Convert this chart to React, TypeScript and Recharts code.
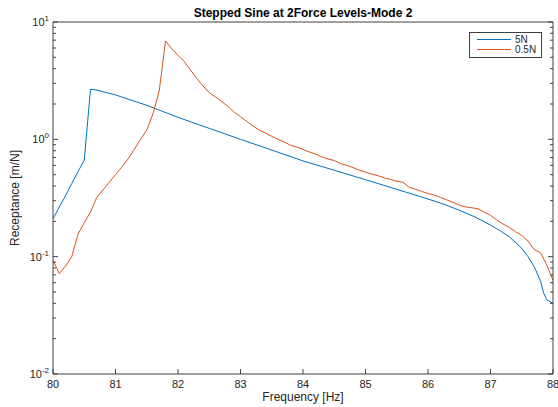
import { LineChart, Line, XAxis, YAxis } from 'recharts'

const freq5N = [80.0, 80.1, 80.2, 80.3, 80.4, 80.5, 80.6, 80.7, 81.0, 81.5, 82.0, 82.5, 83.0, 83.5, 84.0, 84.5, 85.0, 85.5, 86.0, 86.25, 86.5, 86.75, 87.0, 87.15, 87.3, 87.5, 87.6, 87.7, 87.8, 87.85, 87.9, 88.0]
const recept5N = [0.21, 0.265, 0.33, 0.42, 0.53, 0.665, 2.67, 2.63, 2.39, 1.95, 1.54, 1.24, 1.0, 0.81, 0.655, 0.545, 0.453, 0.375, 0.31, 0.28, 0.249, 0.218, 0.186, 0.167, 0.148, 0.118, 0.1, 0.082, 0.062, 0.049, 0.043, 0.04]

const freq05N = [80.0, 80.1, 80.2, 80.3, 80.4, 80.5, 80.6, 80.7, 80.8, 80.9, 81.0, 81.1, 81.2, 81.3, 81.4, 81.5, 81.6, 81.7, 81.8, 81.9, 82.0, 82.1, 82.2, 82.3, 82.4, 82.5, 82.6, 82.7, 82.8, 82.9, 83.0, 83.1, 83.2, 83.3, 83.4, 83.5, 83.6, 83.7, 83.8, 83.9, 84.0, 84.1, 84.2, 84.3, 84.4, 84.5, 84.6, 84.7, 84.8, 84.9, 85.0, 85.1, 85.2, 85.3, 85.4, 85.5, 85.6, 85.7, 85.8, 85.9, 86.0, 86.1, 86.2, 86.3, 86.4, 86.5, 86.6, 86.7, 86.8, 86.9, 87.0, 87.1, 87.2, 87.3, 87.4, 87.5, 87.6, 87.7, 87.8, 87.9, 88.0]
const recept05N = [0.093, 0.072, 0.083, 0.1, 0.155, 0.195, 0.24, 0.32, 0.37, 0.43, 0.5, 0.58, 0.68, 0.82, 1.0, 1.2, 1.65, 2.6, 6.9, 5.9, 5.2, 4.6, 3.9, 3.3, 2.85, 2.5, 2.3, 2.1, 1.9, 1.7, 1.56, 1.42, 1.3, 1.2, 1.13, 1.06, 1.0, 0.95, 0.89, 0.86, 0.82, 0.78, 0.75, 0.71, 0.68, 0.66, 0.62, 0.6, 0.575, 0.545, 0.525, 0.505, 0.49, 0.47, 0.455, 0.44, 0.43, 0.39, 0.375, 0.36, 0.345, 0.335, 0.32, 0.305, 0.29, 0.275, 0.266, 0.261, 0.256, 0.24, 0.225, 0.205, 0.19, 0.178, 0.163, 0.152, 0.136, 0.115, 0.108, 0.085, 0.063]

const xTicks = [80, 81, 82, 83, 84, 85, 86, 87, 88]
const yMajor = [0.01, 0.1, 1, 10]
const yMinor = [0.02, 0.03, 0.04, 0.05, 0.06, 0.07, 0.08, 0.09, 0.2, 0.3, 0.4, 0.5, 0.6, 0.7, 0.8, 0.9, 2, 3, 4, 5, 6, 7, 8, 9]

const series5N = freq5N.map((f, i) => ({ f, v: recept5N[i] }))
const series05N = freq05N.map((f, i) => ({ f, v: recept05N[i] }))

const AXIS = '#404040'
const FONT = '"Liberation Sans", Arial, sans-serif'

const isMajor = (v: number) => yMajor.some(m => Math.abs(m - v) < 1e-9)

function BottomTick({ x, y, payload }: any) {
  return (
    <g>
      <line x1={x} y1={y} x2={x} y2={y - 5} stroke={AXIS} />
      <text x={x} y={y + 14} textAnchor="middle" fontSize={11} fill="#262626" fontFamily={FONT}>
        {payload.value}
      </text>
    </g>
  )
}

function TopTick({ x, y }: any) {
  return <line x1={x} y1={y} x2={x} y2={y + 5} stroke={AXIS} />
}

function LeftTick({ x, y, payload }: any) {
  const major = isMajor(payload.value)
  const exp = Math.round(Math.log10(payload.value))
  return (
    <g>
      <line x1={x} y1={y} x2={x + (major ? 5 : 3)} y2={y} stroke={AXIS} />
      {major && (
        <text x={x - 4} y={y + 4} textAnchor="end" fontSize={11} fill="#262626" fontFamily={FONT}>
          10<tspan dy={-5} fontSize={8}>{exp}</tspan>
        </text>
      )}
    </g>
  )
}

function RightTick({ x, y, payload }: any) {
  const major = isMajor(payload.value)
  return <line x1={x} y1={y} x2={x - (major ? 5 : 3)} y2={y} stroke={AXIS} />
}

export default function App() {
  return (
    <div style={{ position: 'absolute', left: 0, top: 0, width: 558, height: 407, background: '#fff' }}>
      <LineChart width={558} height={407} margin={{ top: 12, right: 0, bottom: 3, left: 3 }}>
        <XAxis
          dataKey="f"
          type="number"
          domain={[80, 88]}
          ticks={xTicks}
          allowDataOverflow
          height={30}
          tickSize={0}
          tickMargin={0}
          tickLine={false}
          stroke={AXIS}
          tick={<BottomTick />}
          interval={0}
        />
        <XAxis
          xAxisId="top"
          orientation="top"
          type="number"
          domain={[80, 88]}
          ticks={xTicks}
          allowDataOverflow
          height={10}
          tickSize={0}
          tickMargin={0}
          tickLine={false}
          stroke={AXIS}
          tick={<TopTick />}
          interval={0}
        />
        <YAxis
          dataKey="v"
          scale="log"
          type="number"
          domain={[0.01, 10]}
          allowDataOverflow
          ticks={[...yMajor, ...yMinor]}
          width={50}
          tickSize={0}
          tickMargin={0}
          tickLine={false}
          stroke={AXIS}
          tick={<LeftTick />}
          interval={0}
        />
        <YAxis
          yAxisId="right"
          orientation="right"
          scale="log"
          type="number"
          domain={[0.01, 10]}
          allowDataOverflow
          ticks={[...yMajor, ...yMinor]}
          width={5}
          tickSize={0}
          tickMargin={0}
          tickLine={false}
          stroke={AXIS}
          tick={<RightTick />}
          interval={0}
        />
        <Line data={series5N} dataKey="v" name="5N" stroke="#0072BD" strokeWidth={1} dot={false} isAnimationActive={false} />
        <Line data={series05N} dataKey="v" name="0.5N" stroke="#D95319" strokeWidth={1} dot={false} isAnimationActive={false} />
      </LineChart>
      <svg width={558} height={407} style={{ position: 'absolute', left: 0, top: 0, pointerEvents: 'none' }}>
        <text x={303} y={17} textAnchor="middle" fontSize={12} fontWeight="bold" fill="#000" fontFamily={FONT}>
          Stepped Sine at 2Force Levels-Mode 2
        </text>
        <text x={303} y={401} textAnchor="middle" fontSize={12} fill="#262626" fontFamily={FONT}>
          Frequency [Hz]
        </text>
        <text x={19} y={198} textAnchor="middle" fontSize={12} fill="#262626" fontFamily={FONT} transform="rotate(-90 19 198)">
          Receptance [m/N]
        </text>
        <g transform="translate(469,32)">
          <rect x={0.5} y={0.5} width={72} height={25} fill="#fff" stroke={AXIS} />
          <line x1={8} y1={7.5} x2={42} y2={7.5} stroke="#0072BD" />
          <line x1={8} y1={17.5} x2={42} y2={17.5} stroke="#D95319" />
          <text x={46} y={11} fontSize={10} fill="#262626" fontFamily={FONT}>5N</text>
          <text x={46} y={21} fontSize={10} fill="#262626" fontFamily={FONT}>0.5N</text>
        </g>
      </svg>
    </div>
  )
}
